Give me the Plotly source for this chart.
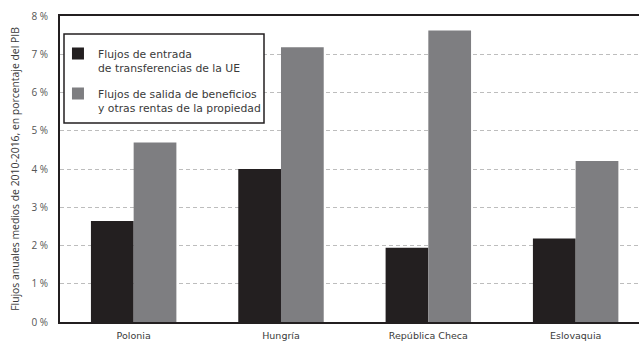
import plotly.graph_objects as go

categories = ["Polonia", "Hungría", "República Checa", "Eslovaquia"]
entrada_ue = [2.64, 4.0, 1.94, 2.18]
salida_beneficios = [4.69, 7.18, 7.62, 4.21]
tick_vals = [0, 1, 2, 3, 4, 5, 6, 7, 8]
tick_text = ["0 %", "1 %", "2 %", "3 %", "4 %", "5 %", "6 %", "7 %", "8 %"]
name_entrada = "Flujos de entrada<br>de transferencias de la UE"
name_salida = "Flujos de salida de beneficios<br>y otras rentas de la propiedad"
y_title = "Flujos anuales medios de 2010-2016, en porcentaje del PIB"

FONT = "DejaVu Sans"
TXT = "#3a3a3a"

fig = go.Figure()
fig.add_trace(go.Bar(x=categories, y=entrada_ue, name=name_entrada,
                     marker=dict(color="#231f20", line=dict(width=0)),
                     legendgroup="a"))
fig.add_trace(go.Bar(x=categories, y=salida_beneficios, name=name_salida,
                     marker=dict(color="#7e7e81", line=dict(width=0)),
                     legendgroup="b"))

# legend frame (white box, drawn in paper coordinates)
fig.add_shape(type="rect", xref="paper", yref="paper",
              x0=4 / 579, x1=204 / 579, y0=(322 - 123) / 306, y1=(322 - 34) / 306,
              fillcolor="white", line=dict(color="#231f20", width=1.5), layer="above")

fig.update_layout(
    width=639, height=341,
    margin=dict(l=60, r=0, t=16, b=19, autoexpand=False),
    plot_bgcolor="white", paper_bgcolor="white",
    barmode="group", bargap=0.42, bargroupgap=0,
    font=dict(family=FONT, color=TXT, size=10),
    showlegend=True,
    legend=dict(x=-0.0035, y=0.922, xanchor="left", yanchor="top",
                borderwidth=0, bgcolor="rgba(0,0,0,0)", valign="top",
                font=dict(family=FONT, size=10.8, color=TXT),
                tracegroupgap=9, itemwidth=30, traceorder="grouped"),
    xaxis=dict(range=[-0.5, 3.43], showline=True, linecolor="#231f20", linewidth=2,
               mirror=True, ticks="", showgrid=False, automargin=False,
               ticklabelstandoff=4,
               tickfont=dict(family=FONT, size=9.5, color=TXT)),
    yaxis=dict(range=[0, 8], tickvals=tick_vals, ticktext=tick_text,
               showline=True, linecolor="#231f20", linewidth=2,
               showgrid=True, gridcolor="#bdbdbd", griddash="4px,3px", gridwidth=1,
               zeroline=False, ticks="", ticklabelstandoff=8, automargin=False,
               tickfont=dict(family="Open Sans", size=10, color="#555555"),
               title=dict(text=y_title, font=dict(family="Open Sans", size=10.4, color=TXT),
                          standoff=10)),
)

fig.write_html("out.html", config={"displayModeBar": False},
               post_script="document.body.style.margin='0';")
